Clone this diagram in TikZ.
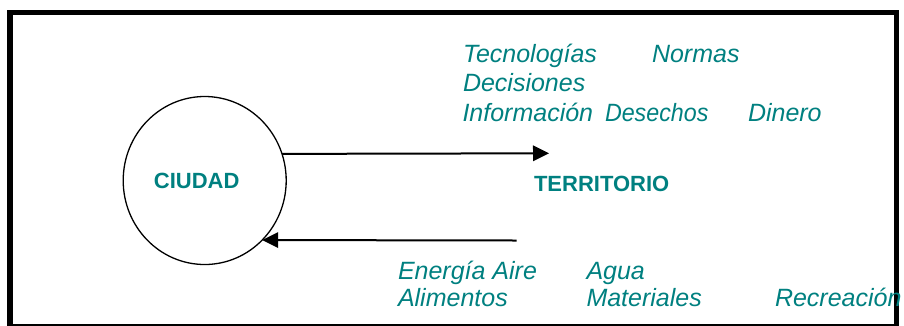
\documentclass[tikz,border=0pt]{standalone}
\usepackage{fontspec}
\setmainfont{Liberation Sans}
\usetikzlibrary{arrows.meta,shapes.geometric}
\definecolor{tealtxt}{RGB}{0,128,128}
\begin{document}
\begin{tikzpicture}[x=1pt,y=-1pt,
  frame/.style={draw=black,line width=5.2pt},
  circ/.style={draw=black,ellipse,line width=1.3pt,minimum width=163pt,minimum height=168pt,inner sep=0pt,outer sep=0pt},
  bigbold/.style={text=tealtxt,font=\fontsize{22}{26}\selectfont\bfseries,inner sep=0pt,outer sep=0pt},
  flow/.style={text=tealtxt,font=\fontsize{25}{30}\selectfont\itshape,inner sep=0pt,outer sep=0pt,anchor=base west},
  arr/.style={draw=black,line width=2pt,-{Triangle[length=16pt,width=15.5pt]}}
]
\useasboundingbox (0,0) rectangle (904,325);
\draw[frame] (10,12.2) rectangle (896.5,327);

\node[circ] (ciudad) at (204.7,180.5) {\raisebox{-2.5pt}{\hspace*{-16pt}\textcolor{tealtxt}{\fontsize{22}{26}\selectfont\bfseries CIUDAD}}};
\node[bigbold,anchor=base west] (territorio) at (534,191) {TERRITORIO};

\coordinate (toptip) at (549,153.3);
\coordinate (botstart) at (516.7,240.5);
\draw[arr] (ciudad.19.4) -- (toptip);
\draw[arr] (botstart) -- (ciudad.-46.5);

\node[flow] (tecno) at (463,62.3) {Tecnologías};
\node[flow] (normas) at (652,62.3) {Normas};
\node[flow] (decis) at (463,91.7) {Decisiones};
\node[flow] (info) at (462.5,121.7) {Información};
\node[flow] (desechos) at (605,121.7) {\scalebox{0.93}[1]{Desechos}};
\node[flow] (dinero) at (748,121.7) {Dinero};

\node[flow] (energia) at (398,279.3) {Energía Aire};
\node[flow] (agua) at (586.5,279.3) {Agua};
\node[flow] (alimentos) at (398,306.7) {Alimentos};
\node[flow] (materiales) at (586.5,306.7) {Materiales};
\node[flow] (recreacion) at (775,306.7) {Recreación};
\end{tikzpicture}
\end{document}
